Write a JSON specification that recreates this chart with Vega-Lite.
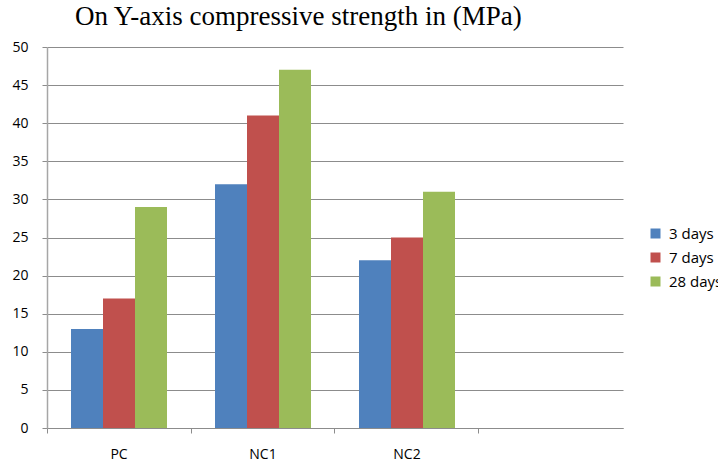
{
  "$schema": "https://vega.github.io/schema/vega-lite/v6.json",
  "autosize": {"type": "none"},
  "width": 576,
  "height": 381,
  "padding": {"left": 47, "top": 47, "right": 95, "bottom": 38},
  "background": "white",
  "title": {
    "text": "On Y-axis compressive strength in (MPa)",
    "font": "Liberation Serif",
    "fontSize": 27,
    "fontWeight": "normal",
    "color": "#000000",
    "anchor": "start",
    "frame": "group",
    "dx": 28,
    "offset": 9
  },
  "data": {
    "values": [
      {"mix": "PC", "age": "3 days", "strength": 13},
      {"mix": "PC", "age": "7 days", "strength": 17},
      {"mix": "PC", "age": "28 days", "strength": 29},
      {"mix": "NC1", "age": "3 days", "strength": 32},
      {"mix": "NC1", "age": "7 days", "strength": 41},
      {"mix": "NC1", "age": "28 days", "strength": 47},
      {"mix": "NC2", "age": "3 days", "strength": 22},
      {"mix": "NC2", "age": "7 days", "strength": 25},
      {"mix": "NC2", "age": "28 days", "strength": 31}
    ]
  },
  "mark": {"type": "bar"},
  "encoding": {
    "x": {
      "field": "mix",
      "type": "nominal",
      "scale": {"domain": ["PC", "NC1", "NC2", " "], "paddingInner": 0.3333, "paddingOuter": 0.1667},
      "axis": {
        "title": null,
        "labelAngle": 0,
        "labelFont": "Open Sans",
        "labelFontSize": 14,
        "labelColor": "#000000",
        "labelPadding": 14,
        "bandPosition": -0.25,
        "tickSize": 5,
        "tickColor": "#8c8c8c",
        "domainColor": "#8c8c8c",
        "grid": false
      }
    },
    "xOffset": {
      "field": "age",
      "type": "nominal",
      "sort": ["3 days", "7 days", "28 days"],
      "scale": {"paddingInner": 0, "paddingOuter": 0}
    },
    "y": {
      "field": "strength",
      "type": "quantitative",
      "scale": {"domain": [0, 50], "nice": false},
      "axis": {
        "title": null,
        "values": [0, 5, 10, 15, 20, 25, 30, 35, 40, 45, 50],
        "labelFont": "Open Sans",
        "labelFontSize": 14,
        "labelColor": "#000000",
        "labelPadding": 14,
        "tickSize": 5,
        "tickColor": "#8c8c8c",
        "domainColor": "#a6a6a6",
        "domainWidth": 1.5,
        "gridColor": "#8c8c8c",
        "gridWidth": 1
      }
    },
    "color": {
      "field": "age",
      "type": "nominal",
      "sort": ["3 days", "7 days", "28 days"],
      "scale": {"domain": ["3 days", "7 days", "28 days"], "range": ["#4F81BD", "#C0504D", "#9BBB59"]},
      "legend": {
        "title": null,
        "orient": "none",
        "legendX": 601,
        "legendY": 179,
        "symbolType": "square",
        "symbolSize": 100,
        "symbolStrokeWidth": 0,
        "rowPadding": 8,
        "labelFont": "Open Sans",
        "labelFontSize": 15,
        "labelColor": "#000000",
        "labelOffset": 6
      }
    }
  },
  "config": {"view": {"stroke": null}}
}
